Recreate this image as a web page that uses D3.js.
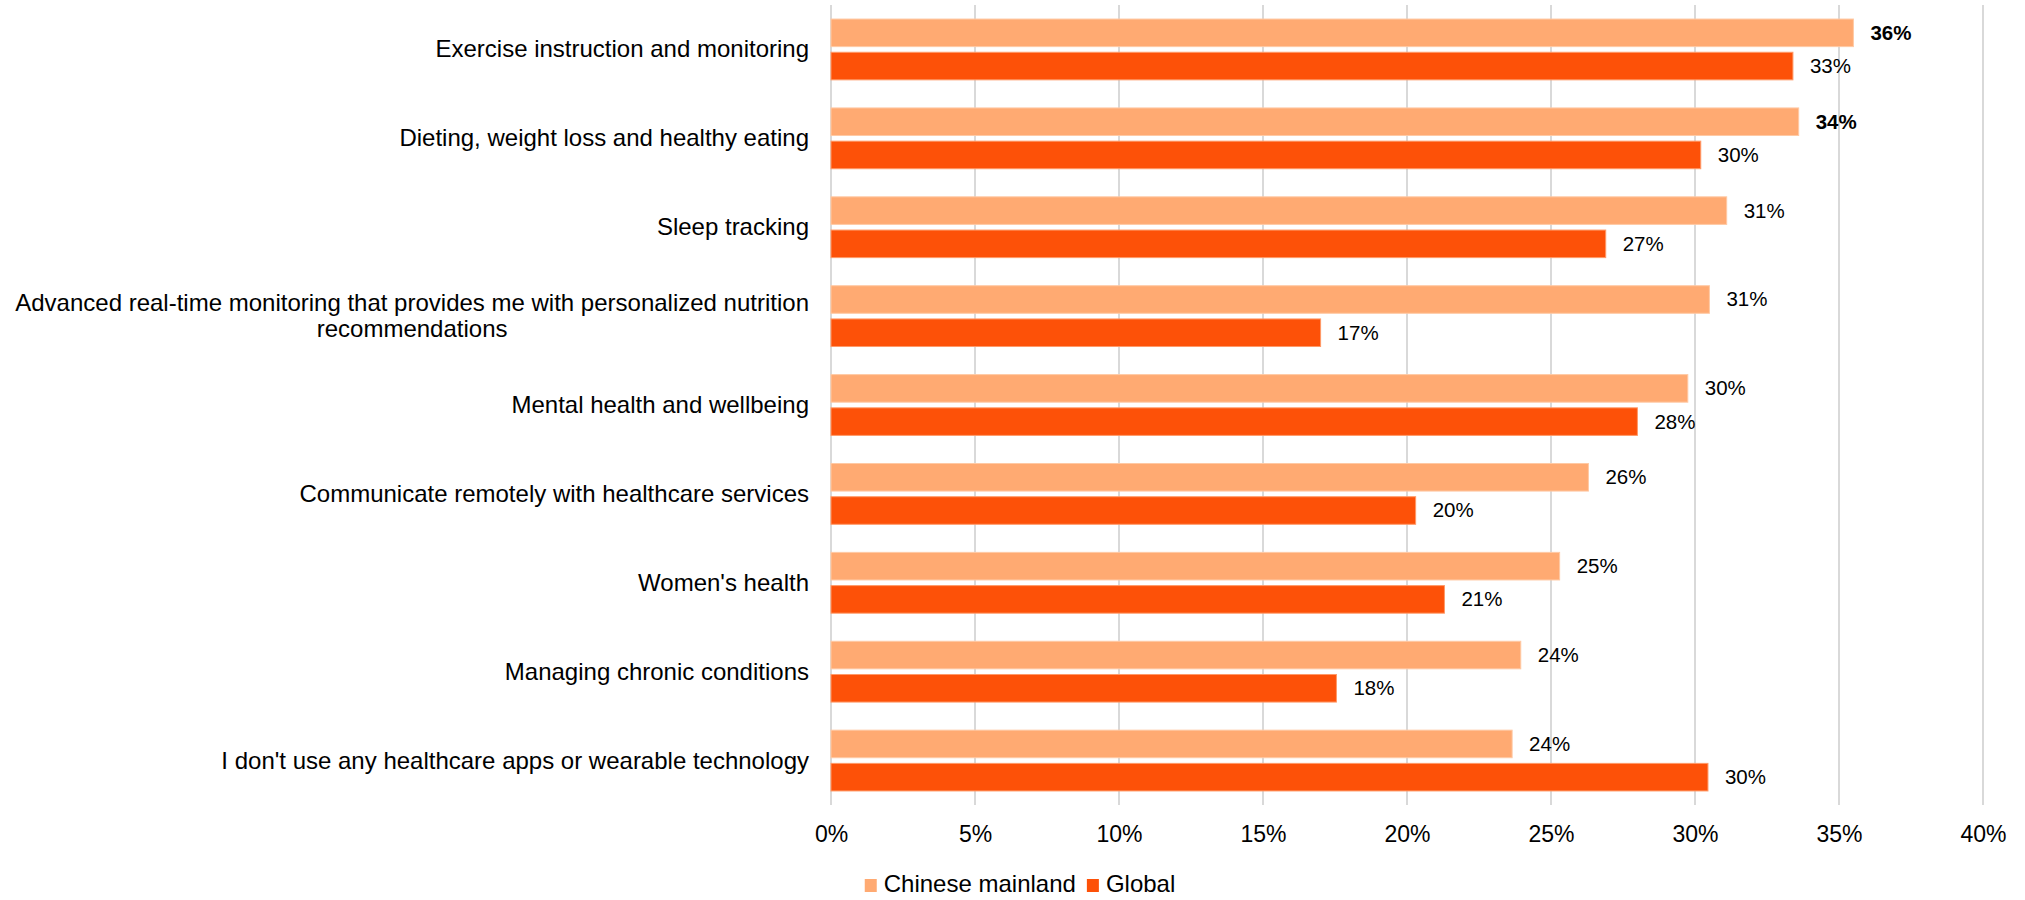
<!DOCTYPE html>
<html>
<head>
<meta charset="utf-8">
<script src="https://cdn.jsdelivr.net/npm/d3@7"></script>
<style>
  html, body { margin: 0; padding: 0; background: #ffffff; }
  svg { display: block; }
  text { font-family: Arial, "Liberation Sans", sans-serif; fill: #000; }
</style>
</head>
<body>
<svg id="chart" width="2025" height="900"></svg>
<script>
// Share of respondents using health apps / wearables for each purpose
const categories = [
  "Exercise instruction and monitoring",
  "Dieting, weight loss and healthy eating",
  "Sleep tracking",
  "Advanced real-time monitoring that provides me with personalized nutrition recommendations",
  "Mental health and wellbeing",
  "Communicate remotely with healthcare services",
  "Women's health",
  "Managing chronic conditions",
  "I don't use any healthcare apps or wearable technology"
];
const seriesNames = ["Chinese mainland", "Global"];
const chineseMainland = [0.355, 0.336, 0.311, 0.305, 0.2975, 0.263, 0.253, 0.2395, 0.2365];
const globalValues    = [0.334, 0.302, 0.269, 0.170, 0.280, 0.203, 0.213, 0.1755, 0.3045];
const tickValues = [0, 0.05, 0.10, 0.15, 0.20, 0.25, 0.30, 0.35, 0.40];
// Categories whose Chinese mainland label is set in bold
const boldLabels = ["Exercise instruction and monitoring", "Dieting, weight loss and healthy eating"];

const colors = { "Chinese mainland": "#FFAA72", "Global": "#FD5108" };
const strokes = { "Chinese mainland": "#FFC9A4", "Global": "#FF9A68" };

const rows = categories.map((c, i) => ({
  category: c,
  values: [
    { series: seriesNames[0], value: chineseMainland[i] },
    { series: seriesNames[1], value: globalValues[i] }
  ]
}));

const svg = d3.select("#chart");
const plot = { left: 831, right: 1983, top: 5, bottom: 805 };

const x = d3.scaleLinear().domain([0, 0.40]).range([plot.left, plot.right]);
const y0 = d3.scaleBand().domain(categories).range([plot.top, plot.bottom]).padding(0);
const y1 = d3.scaleBand().domain(seriesNames)
  .range([y0.bandwidth() * 0.158, y0.bandwidth() * 0.842]).paddingInner(0.17);

const pct = d3.format(".0%");

// Vertical gridlines
svg.append("g").selectAll("line").data(tickValues).join("line")
  .attr("x1", d => x(d)).attr("x2", d => x(d))
  .attr("y1", plot.top).attr("y2", plot.bottom)
  .attr("stroke", "#d9d9d9").attr("stroke-width", 2);

// X axis tick labels
const xAxis = d3.axisBottom(x).tickValues(tickValues).tickFormat(pct).tickSize(0).tickPadding(0);
const gx = svg.append("g").attr("transform", `translate(0,${plot.bottom})`).call(xAxis);
gx.select(".domain").remove();
gx.selectAll("text")
  .attr("y", 37).attr("dy", null)
  .style("font-size", "23px").style("font-family", "Arial, 'Liberation Sans', sans-serif")
  .attr("fill", "#000");

// Bars
const groups = svg.append("g").selectAll("g").data(rows).join("g")
  .attr("transform", d => `translate(0,${y0(d.category)})`);

groups.selectAll("rect").data(d => d.values).join("rect")
  .attr("x", x(0))
  .attr("y", d => y1(d.series))
  .attr("width", d => x(d.value) - x(0))
  .attr("height", y1.bandwidth())
  .attr("fill", d => colors[d.series])
  .attr("stroke", d => strokes[d.series])
  .attr("stroke-width", 1);

// Value labels
groups.selectAll("text.val").data(d => d.values.map(v => ({ ...v, category: d.category }))).join("text")
  .attr("class", "val")
  .attr("x", d => x(d.value) + 17)
  .attr("y", d => y1(d.series) + y1.bandwidth() / 2 + 7)
  .style("font-size", "20.5px")
  .style("font-weight", d => (d.series === seriesNames[0] && boldLabels.includes(d.category)) ? "bold" : "normal")
  .text(d => pct(d.value));

// Category labels (wrapped, lines centred on each other, block right-aligned)
const labelRight = 809;
const maxLabelWidth = 805;
const lineHeight = 26;
const catG = svg.append("g");
rows.forEach(r => {
  const t = catG.append("text").style("font-size", "24px");
  const words = r.category.split(" ");
  const lines = [];
  let cur = [];
  words.forEach(w => {
    t.text([...cur, w].join(" "));
    if (cur.length && t.node().getComputedTextLength() > maxLabelWidth) {
      lines.push(cur.join(" "));
      cur = [w];
    } else {
      cur.push(w);
    }
  });
  lines.push(cur.join(" "));
  t.text(null);
  const widths = lines.map(l => { t.text(l); return t.node().getComputedTextLength(); });
  t.text(null);
  const blockW = d3.max(widths);
  const cx = labelRight - blockW / 2;
  const cy = y0(r.category) + y0.bandwidth() / 2;
  const firstBaseline = cy + 8 - (lines.length - 1) * lineHeight / 2;
  lines.forEach((l, i) => {
    t.append("tspan")
      .attr("x", cx)
      .attr("y", firstBaseline + i * lineHeight)
      .attr("text-anchor", "middle")
      .text(l);
  });
});

// Legend, centred on the page
const legend = svg.append("g");
const legendItems = legend.selectAll("g").data(seriesNames).join("g");
legendItems.append("rect")
  .attr("width", 12).attr("height", 13).attr("y", 879)
  .attr("fill", d => colors[d]);
legendItems.append("text")
  .attr("x", 19).attr("y", 892)
  .style("font-size", "24px")
  .text(d => d);
const itemGap = 11;
const widthsL = legendItems.nodes().map(n => n.getBBox().width);
const totalL = d3.sum(widthsL) + itemGap * (widthsL.length - 1);
let lx = 1020 - totalL / 2;
legendItems.each(function (d, i) {
  d3.select(this).attr("transform", `translate(${lx},0)`);
  lx += widthsL[i] + itemGap;
});
</script>
</body>
</html>
